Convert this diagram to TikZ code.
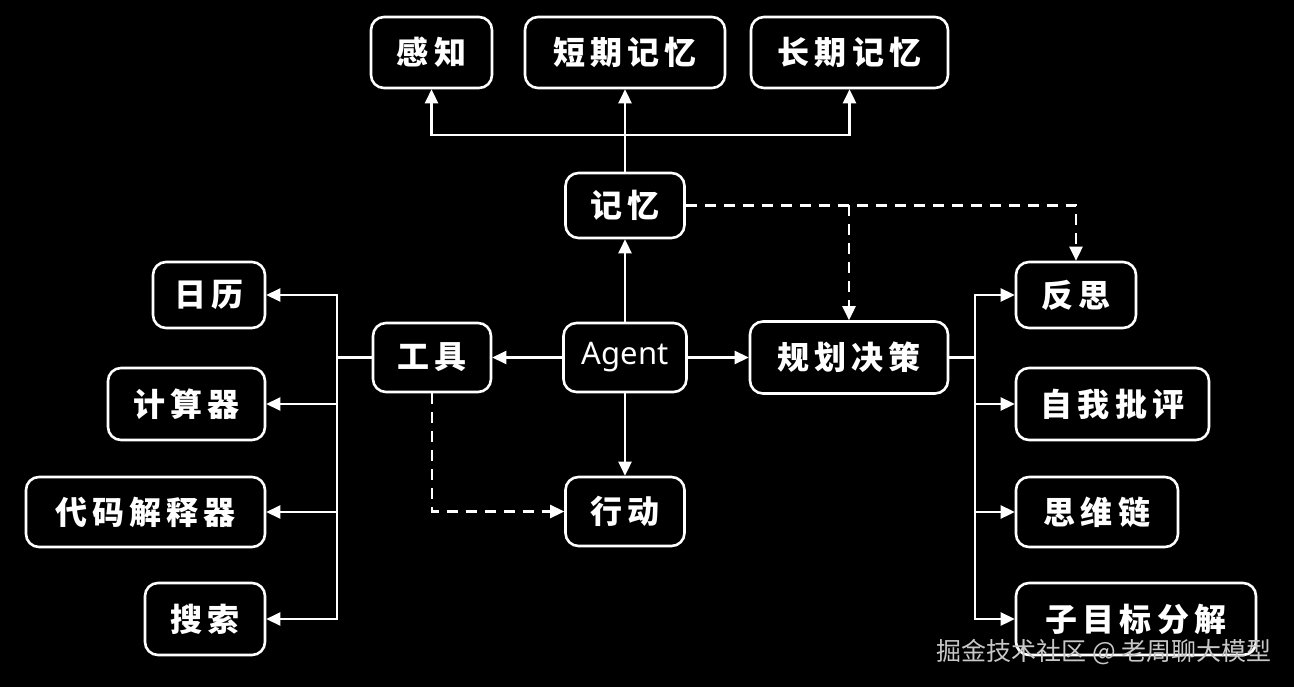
\documentclass[tikz,border=0pt]{standalone}
\usepackage{fontspec}
\usetikzlibrary{arrows.meta}
\newfontfamily\cjk[LetterSpace=16]{Noto Sans CJK SC}
\newfontfamily\wmfont{Noto Sans CJK SC}
\newfontfamily\latfont{Noto Sans}
\definecolor{wmgray}{RGB}{200,200,200}
\begin{document}
\begin{tikzpicture}[x=1pt,y=-1pt,
  box/.style={draw=white,line width=2.6pt,rounded corners=13pt,fill=black,text=white,
    inner sep=0pt,font=\cjk\bfseries\fontsize{32}{32}\selectfont},
  conn/.style={draw=white,line width=2.6pt},
  arr/.style={conn,-{Triangle[length=14pt,width=13pt]}},
  darr/.style={arr,dash pattern=on 11pt off 8pt}]
\fill[black] (0,0) rectangle (1294,687);
\useasboundingbox (0,0) rectangle (1294,687);
% top row
\node[box,minimum width=121pt,minimum height=71pt] (ganzhi) at (431.5,52.5) {感知};
\node[box,minimum width=200pt,minimum height=71pt] (duanqi) at (625,52.5) {短期记忆};
\node[box,minimum width=197pt,minimum height=71pt] (changqi) at (849.5,52.5) {长期记忆};
% memory
\node[box,minimum width=119pt,minimum height=65pt] (jiyi) at (625,205.5) {记忆};
% middle
\node[box,minimum width=118pt,minimum height=69pt] (gongju) at (432,357.5) {工具};
\node[box,minimum width=123pt,minimum height=69pt,font=\latfont\fontsize{31}{31}\selectfont] (agent) at (625,357.5) {Agent};
\node[box,minimum width=198pt,minimum height=72pt] (guihua) at (849,357.5) {规划决策};
\node[box,minimum width=119pt,minimum height=69pt] (xingdong) at (625,511.5) {行动};
% tools
\node[box,minimum width=112pt,minimum height=66pt] (rili) at (209,295) {日历};
\node[box,minimum width=157pt,minimum height=72pt] (jisuan) at (186.5,404) {计算器};
\node[box,minimum width=239pt,minimum height=70pt] (daima) at (145.5,512) {代码解释器};
\node[box,minimum width=120pt,minimum height=72pt] (sousuo) at (205,619) {搜索};
% planning
\node[box,minimum width=120pt,minimum height=66pt] (fansi) at (1076,295) {反思};
\node[box,minimum width=193pt,minimum height=72pt] (ziwo) at (1112.5,404) {自我批评};
\node[box,minimum width=162pt,minimum height=70pt] (siwei) at (1097,512) {思维链};
\node[box,minimum width=240pt,minimum height=72pt] (zimubiao) at (1136,619) {子目标分解};
% coordinates
\coordinate (mbus) at (625,135);
\coordinate (tbus) at (337,357.5);
\coordinate (pbus) at (975,357.5);
\coordinate (dsplit) at (849,205.5);
% memory connectors
\draw[arr] (jiyi.north) -- (duanqi.south);
\draw[arr] (mbus) -| (ganzhi.south);
\draw[arr] (mbus) -| (changqi.south);
\draw[darr] (jiyi.east) -| (fansi.north);
\draw[darr] (dsplit) -- (guihua.north);
% agent connectors
\draw[arr] (agent.north) -- (jiyi.south);
\draw[arr] (agent.west) -- (gongju.east);
\draw[arr] (agent.east) -- (guihua.west);
\draw[arr] (agent.south) -- (xingdong.north);
\draw[darr] (gongju.south) |- (xingdong.west);
% tool bus
\draw[conn] (gongju.west) -- (tbus);
\draw[arr] (tbus) |- (rili.east);
\draw[arr] (tbus) |- (jisuan.east);
\draw[arr] (tbus) |- (daima.east);
\draw[arr] (tbus) |- (sousuo.east);
% planning bus
\draw[conn] (guihua.east) -- (pbus);
\draw[arr] (pbus) |- (fansi.west);
\draw[arr] (pbus) |- (ziwo.west);
\draw[arr] (pbus) |- (siwei.west);
\draw[arr] (pbus) |- (zimubiao.west);
% watermark
\node[text=wmgray,font=\wmfont\fontsize{25}{25}\selectfont,inner sep=0pt,anchor=east] (wm) at (1272,652) {掘金技术社区 @ 老周聊大模型};
\end{tikzpicture}
\end{document}
